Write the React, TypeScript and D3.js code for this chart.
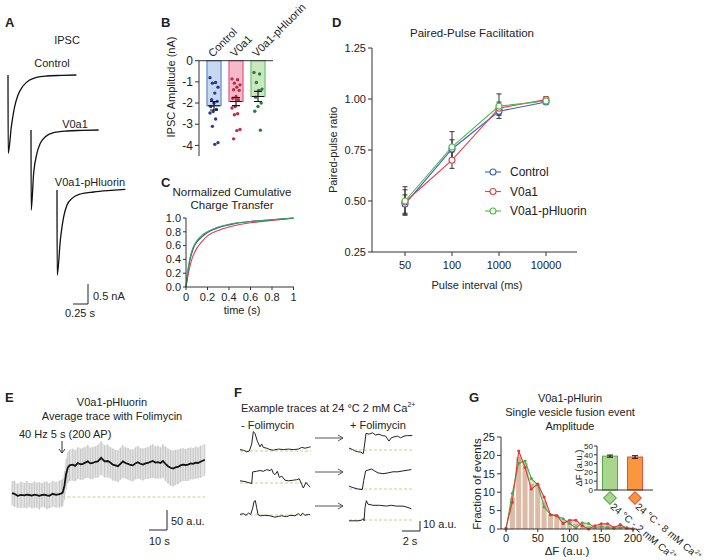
import React from "react";
import * as d3 from "d3";

const FONT = "'Liberation Sans', Arial, Helvetica, sans-serif";

// ---- A: example IPSC traces [time (s), current (nA)]
const ipscControl = [[0, 0], [0.003, -1.96], [0.056, -1.29], [0.111, -0.79], [0.167, -0.5], [0.25, -0.275], [0.361, -0.125], [0.472, -0.06], [0.639, -0.025], [0.9, -0.01], [1.14, 0]];
const ipscV0a1 = [[0, 0], [0.003, -2.0], [0.044, -1.08], [0.1, -0.58], [0.156, -0.33], [0.239, -0.17], [0.378, -0.067], [0.6, -0.025], [0.85, -0.01], [1.128, 0]];
const ipscPh = [[0, 0], [0.003, -2.13], [0.056, -1.25], [0.111, -0.67], [0.167, -0.375], [0.25, -0.21], [0.389, -0.1], [0.611, -0.05], [0.9, -0.01], [1.14, 0.017]];

// ---- B: IPSC amplitude (nA)
const groups = ["Control", "V0a1", "V0a1-pHluorin"];
const ampMean = [-2.13, -1.93, -1.69];
const ampSem = [0.2, 0.19, 0.24];
const ampControl = [-0.8, -1.03, -1.06, -1.25, -1.53, -1.84, -1.92, -2.0, -2.16, -2.3, -2.4, -2.47, -2.75, -3.1, -3.87, -3.95];
const ampV0a1 = [-0.86, -0.9, -1.06, -1.14, -1.25, -1.37, -1.4, -1.69, -1.77, -1.84, -2.16, -2.23, -2.5, -2.55, -3.25, -3.3, -3.69];
const ampPh = [-0.56, -0.63, -1.03, -1.34, -1.4, -1.72, -2.0, -2.16, -2.39, -3.28];
const bTicks = [0, -1, -2, -3, -4];

// ---- C: normalized cumulative charge transfer
const cTime = [0, 0.01, 0.02, 0.04, 0.06, 0.08, 0.1, 0.15, 0.2, 0.3, 0.4, 0.5, 0.6, 0.8, 1.0];
const cControl = [0, 0.13, 0.25, 0.41, 0.52, 0.6, 0.65, 0.73, 0.79, 0.86, 0.9, 0.93, 0.95, 0.975, 1.0];
const cV0a1 = [0, 0.09, 0.18, 0.32, 0.43, 0.5, 0.56, 0.66, 0.74, 0.82, 0.87, 0.905, 0.93, 0.965, 0.995];
const cPh = [0, 0.15, 0.27, 0.44, 0.55, 0.62, 0.67, 0.75, 0.8, 0.87, 0.91, 0.935, 0.95, 0.975, 1.0];
const cTicksY = [0, 0.2, 0.4, 0.6, 0.8, 1.0];
const cTicksX = [0, 0.2, 0.4, 0.6, 0.8, 1];

// ---- D: paired-pulse ratio
const intervals = ["50", "100", "1000", "10000"];
const ppControl = [0.485, 0.755, 0.94, 0.985];
const ppControlErr = [0.045, 0.045, 0.02, 0.008];
const ppV0a1 = [0.495, 0.7, 0.955, 0.997];
const ppV0a1Err = [0.06, 0.04, 0.03, 0.015];
const ppPh = [0.5, 0.765, 0.965, 0.99];
const ppPhErr = [0.07, 0.075, 0.06, 0.01];
const dTicks = [0.25, 0.5, 0.75, 1.0, 1.25];

// ---- E: average trace [time (s), mean (a.u.), error (a.u.)]
const eTrace = [
  [0, 9.5, 30], [1.3, 8, 32], [3.1, 3, 30], [5, 5.5, 33], [6.8, 4, 31], [8.2, 6, 34], [9.6, 5, 30], [11, 3.5, 32],
  [12.4, 6, 33], [13.8, 4.5, 31], [15.2, 3, 34], [16.6, 5, 30], [18, 6, 32], [19.4, 4, 35], [20.7, 3, 31], [22.6, 8, 33],
  [24.4, 5.5, 32], [26.3, 7, 34], [27.4, 9, 33], [28.1, 11, 35], [29.1, 29, 36], [30, 57, 38], [30.9, 73, 38], [31.9, 79, 39],
  [33.7, 81, 40], [35, 78, 39], [36.5, 85, 40], [38, 82, 39], [39.3, 83, 40], [40.6, 86, 39], [42, 89, 41], [43.4, 84, 39],
  [44.8, 85, 40], [46.2, 88, 39], [47.6, 89, 41], [49.4, 98, 42], [51.3, 89, 40], [53.1, 90, 41], [54.5, 86, 39], [55.9, 81, 40],
  [57.3, 79, 39], [58.7, 77, 40], [60.1, 83, 40], [61.5, 89, 41], [62.9, 85, 39], [64.3, 83, 40], [65.6, 80, 39], [67, 79, 40],
  [68.4, 84, 40], [69.8, 87, 41], [71.2, 83, 39], [72.6, 81, 40], [74, 84, 39], [75.4, 85, 40], [76.8, 88, 41], [78.1, 90, 42],
  [79.5, 86, 40], [80.9, 87, 41], [82.3, 85, 39], [83.7, 90, 42], [85.1, 83, 43], [86.5, 77, 44], [87.9, 73, 45], [89.3, 71, 45],
  [90.6, 74, 44], [92, 75, 43], [93.4, 79, 42], [94.8, 81, 41], [96.2, 80, 40], [97.6, 81, 41], [99, 84, 40], [100.4, 83, 39],
  [101.8, 86, 40], [103.1, 85, 39], [104.5, 88, 40], [106.9, 93, 39],
];

// ---- F: example traces [time (s), dF (a.u.)]
const f1Before = [[0, 1.4], [0.37, 0.8], [0.74, -0.8], [1.04, 0], [1.3, 6.9], [1.48, 19.4], [1.67, 17.5], [1.93, 9.7], [2.22, 4.2], [2.41, 6.9], [2.59, 3.6], [2.96, 2.8], [3.33, 1.4], [3.7, 0.8], [4.26, 1.9], [4.81, 1.4], [5.37, 1.9], [5.93, 1.4], [6.48, 1.9], [6.85, 3.6], [7.22, 2.8], [7.59, 3.6], [7.85, 4.2]];
const f1After = [[0, 1.9], [0.37, 0.6], [0.63, -0.8], [0.93, -1.7], [1.3, -2.2], [1.59, -3.6], [1.74, 6.1], [1.89, 16.7], [2.22, 15.8], [2.59, 17.2], [2.96, 15], [3.33, 15.8], [3.7, 14.4], [4.07, 13.9], [4.44, 8.9], [4.7, 12.2], [5, 13.1], [5.37, 13.9], [5.74, 12.2], [6.11, 13.9], [6.48, 14.4], [7.04, 14.4]];
const f2Before = [[0, 2.2], [0.56, 1.4], [1.11, 0], [1.3, -0.6], [1.41, 11.1], [1.85, 11.7], [2.22, 12.5], [2.59, 11.7], [2.96, 13.3], [3.33, 12.5], [3.52, 13.9], [3.7, 9.7], [3.89, 8.3], [4.15, 11.7], [4.37, 5.6], [4.63, 6.9], [5, 2.8], [5.37, 2.2], [5.93, 2.8], [6.3, 3.3], [6.59, 4.2], [6.85, -1.4], [7.04, -5], [7.33, 0.6], [7.59, -2.2], [7.78, -4.2]];
const f2After = [[0, 2.8], [0.44, 1.4], [1, 0], [1.48, -0.6], [1.63, 8.3], [1.85, 18.1], [2.11, 18.9], [2.48, 20], [2.85, 18.1], [3.22, 16.1], [3.78, 15.3], [4.33, 16.1], [4.89, 17.2], [5.44, 17.2], [6, 18.1], [6.56, 18.9], [6.93, 19.4]];
const f3Before = [[0, 0.6], [0.37, 1.4], [0.67, -0.3], [0.93, 1.9], [1.19, 0.6], [1.41, 6.9], [1.56, 13.6], [1.7, 14.4], [1.85, 7.5], [2, 0.3], [2.3, -0.8], [2.78, -0.3], [3.33, -0.8], [3.89, -2.2], [4.26, -1.4], [4.63, -0.8], [5.19, -1.7], [5.56, -0.3], [6.11, -0.8], [6.48, 1.4], [6.74, -0.8], [6.96, 1.9], [7.22, -0.3], [7.59, 0.6], [7.78, 0.3]];
const f3After = [[0, -0.8], [0.44, -0.8], [1, -0.8], [1.37, -0.3], [1.56, 1.4], [1.67, -0.8], [1.78, 12.5], [1.93, 19.4], [2.11, 15.8], [2.67, 14.7], [3.41, 14.7], [4.15, 13.9], [4.7, 14.7], [5.26, 13.9], [6, 13.9], [6.56, 12.5], [6.93, 11.1]];

// ---- G: amplitude histogram (fraction of events, %)
const gBins = [0, 10, 20, 30, 40, 50, 60, 70, 80, 90, 100, 110, 120, 130, 140, 150, 160, 170, 180, 190, 200];
const gRed = [0.3, 7.3, 21.2, 16.7, 10.9, 12.2, 8.7, 3.9, 3.7, 1.5, 2.4, 2.4, 0.9, 0, 0.9, 1.4, 1.4, 0.4, 1.2, 0.2, 0];
const gGreen = [0, 9.7, 17.9, 18.5, 13.7, 12.0, 6.0, 3.9, 3.5, 2.8, 1.5, 0.3, 1.7, 1.5, 0.4, 0.6, 0.4, 0.2, 0.4, 0.4, 0.1];
const gBarBins = [10, 20, 30, 40, 50, 60, 70, 80, 90, 100, 110, 120, 130, 140, 150, 160, 170, 180, 190];
const gBarVals = [8.5, 19.5, 18, 12.3, 12.2, 7.5, 4, 3.7, 2.2, 2, 1.4, 1.3, 0.8, 0.6, 1, 0.9, 0.4, 0.8, 0.3];
const gTicksY = [0, 5, 10, 15, 20, 25];
const gTicksX = [0, 50, 100, 150, 200];
const insetConds = ["24 °C - 2 mM Ca", "24 °C - 8 mM Ca"];
const insetMean = [38.5, 37.5];
const insetErr = [1.2, 1.5];
const insetTicks = [0, 10, 20, 30, 40, 50];

const Txt = ({ x, y, children, size = 11, anchor = "start", weight = "normal", transform = undefined, fill = "#222" }: any) => (
  <text x={x} y={y} dy="0.35em" fontSize={size} textAnchor={anchor} fontWeight={weight} transform={transform} fill={fill}>
    {children}
  </text>
);

function PanelA() {
  const x = d3.scaleLinear().domain([0, 1]).range([0, 60]);
  const y = d3.scaleLinear().domain([0, -1]).range([0, 40]);
  const line = d3.line<any>().x((d) => x(d[0])).y((d) => y(d[1])).curve(d3.curveMonotoneX);
  const traces = [
    { data: ipscControl, label: "Control", ox: 8, oy: 75, lx: 52, ly: 63 },
    { data: ipscV0a1, label: "V0a1", ox: 31, oy: 130, lx: 75, ly: 124 },
    { data: ipscPh, label: "V0a1-pHluorin", ox: 57, oy: 190, lx: 90, ly: 182 },
  ];
  return (
    <g>
      <Txt x={5} y={22} size={13} weight="bold">A</Txt>
      <Txt x={67} y={40} anchor="middle">IPSC</Txt>
      {traces.map((t) => (
        <g key={t.label}>
          <Txt x={t.lx} y={t.ly} anchor="middle">{t.label}</Txt>
          <path d={line(t.data) || ""} transform={`translate(${t.ox},${t.oy})`} fill="none" stroke="#111" strokeWidth={1.3} />
        </g>
      ))}
      <path d={`M${88 - x(0.25)},${304}H88V${304 - (y(-0.5) - y(0))}`} fill="none" stroke="#222" strokeWidth={1} />
      <Txt x={93} y={296}>0.5 nA</Txt>
      <Txt x={65} y={313}>0.25 s</Txt>
    </g>
  );
}

function PanelB() {
  const y = d3.scaleLinear().domain([-4.5, 0]).range([156, 60.7]);
  const x = d3.scaleBand().domain(groups).range([203, 269]).paddingInner(0.36).paddingOuter(0.18);
  const pts = [ampControl, ampV0a1, ampPh];
  const fills = ["#c6d9f0", "#f6b9cc", "#c9e8c2"];
  const strokes = ["#4a72c8", "#d9476e", "#5cb85c"];
  const dots = ["#2d3a8a", "#c42a45", "#2e7a3a"];
  const bw = x.bandwidth();
  return (
    <g>
      <Txt x={161} y={22} size={13} weight="bold">B</Txt>
      <Txt x={171} y={87} anchor="middle" transform="rotate(-90,171,87)">IPSC Amplitude (nA)</Txt>
      {groups.map((g, i) => {
        const cx = (x(g) as number) + bw / 2;
        return (
          <g key={g}>
            <rect x={x(g)} y={y(0)} width={bw} height={y(ampMean[i]) - y(0)} fill={fills[i]} stroke={strokes[i]} strokeWidth={1} />
            {pts[i].map((v, j) => (
              <circle key={j} cx={cx + (((j * 7) % 11) - 5) * 0.8} cy={y(v)} r={1.7} fill={dots[i]} />
            ))}
            <path
              d={`M${cx},${y(ampMean[i] - ampSem[i])}V${y(ampMean[i] + ampSem[i])}M${cx - 4},${y(ampMean[i] - ampSem[i])}H${cx + 4}M${cx - 4},${y(ampMean[i] + ampSem[i])}H${cx + 4}M${cx - 6},${y(ampMean[i])}H${cx + 6}`}
              stroke="#111" strokeWidth={1.1} fill="none"
            />
            <Txt x={cx - 4} y={55} transform={`rotate(-45,${cx - 4},55)`}>{g}</Txt>
          </g>
        );
      })}
      <line x1={199} x2={273} y1={y(0)} y2={y(0)} stroke="#333" />
      <line x1={199} x2={199} y1={y(0)} y2={y(-4.5)} stroke="#333" />
      {bTicks.map((t) => (
        <g key={t}>
          <line x1={195} x2={199} y1={y(t)} y2={y(t)} stroke="#333" />
          <Txt x={193} y={y(t)} anchor="end" size={12}>{t === 0 ? "0" : `-${Math.abs(t)}`}</Txt>
        </g>
      ))}
    </g>
  );
}

function PanelC() {
  const x = d3.scaleLinear().domain([0, 1]).range([186, 293.5]);
  const y = d3.scaleLinear().domain([0, 1]).range([287, 218]);
  const line = d3.line<number>().x((_, i) => x(cTime[i])).y((d) => y(d)).curve(d3.curveMonotoneX);
  const series = [
    { v: cV0a1, c: "#d8404f" },
    { v: cControl, c: "#3a4aa0" },
    { v: cPh, c: "#38a85a" },
  ];
  return (
    <g>
      <Txt x={161} y={182} size={13} weight="bold">C</Txt>
      <Txt x={232} y={192} anchor="middle" size={11.5}>Normalized Cumulative</Txt>
      <Txt x={232} y={205} anchor="middle" size={11.5}>Charge Transfer</Txt>
      {series.map((s, i) => (
        <path key={i} d={line(s.v) || ""} fill="none" stroke={s.c} strokeWidth={1.1} />
      ))}
      <line x1={186} x2={294} y1={287} y2={287} stroke="#333" />
      <line x1={186} x2={186} y1={287} y2={218} stroke="#333" />
      {cTicksY.map((t) => (
        <g key={t}>
          <line x1={183} x2={186} y1={y(t)} y2={y(t)} stroke="#333" />
          <Txt x={181} y={y(t)} anchor="end" size={11}>{t.toFixed(1)}</Txt>
        </g>
      ))}
      {cTicksX.map((t) => (
        <g key={t}>
          <line x1={x(t)} x2={x(t)} y1={287} y2={290} stroke="#333" />
          <Txt x={x(t)} y={297} anchor="middle" size={11}>{String(t)}</Txt>
        </g>
      ))}
      <Txt x={242} y={310} anchor="middle" size={11}>time (s)</Txt>
    </g>
  );
}

function PanelD() {
  const x = d3.scalePoint().domain(intervals).range([405, 546]);
  const y = d3.scaleLinear().domain([0.25, 1.25]).range([252, 48]);
  const line = d3.line<number>().x((_, i) => x(intervals[i]) as number).y((d) => y(d));
  const series = [
    { name: "Control", v: ppControl, e: ppControlErr, c: "#3f5fc0" },
    { name: "V0a1", v: ppV0a1, e: ppV0a1Err, c: "#e0404a" },
    { name: "V0a1-pHluorin", v: ppPh, e: ppPhErr, c: "#4cbb4c" },
  ];
  return (
    <g>
      <Txt x={332} y={22} size={13} weight="bold">D</Txt>
      <Txt x={472} y={33} anchor="middle" size={11.5}>Paired-Pulse Facilitation</Txt>
      <line x1={372} x2={372} y1={48} y2={252} stroke="#333" />
      <line x1={372} x2={577} y1={252} y2={252} stroke="#333" />
      {dTicks.map((t) => (
        <g key={t}>
          <line x1={368} x2={372} y1={y(t)} y2={y(t)} stroke="#333" />
          <Txt x={366} y={y(t)} anchor="end" size={11}>{t.toFixed(2)}</Txt>
        </g>
      ))}
      {intervals.map((t) => (
        <g key={t}>
          <line x1={x(t)} x2={x(t)} y1={252} y2={256} stroke="#333" />
          <Txt x={x(t)} y={265} anchor="middle" size={11}>{t}</Txt>
        </g>
      ))}
      <Txt x={477} y={285} anchor="middle" size={11}>Pulse interval (ms)</Txt>
      <Txt x={333} y={150} anchor="middle" size={11} transform="rotate(-90,333,150)">Paired-pulse ratio</Txt>
      {series.map((s) => (
        <path key={s.name} d={line(s.v) || ""} fill="none" stroke={s.c} strokeWidth={1.1} />
      ))}
      {series.map((s) =>
        s.v.map((v, i) => {
          const cx = x(intervals[i]) as number;
          return (
            <path key={s.name + i}
              d={`M${cx},${y(v - s.e[i])}V${y(v + s.e[i])}M${cx - 2.5},${y(v - s.e[i])}H${cx + 2.5}M${cx - 2.5},${y(v + s.e[i])}H${cx + 2.5}`}
              stroke="#333" strokeWidth={1} fill="none" />
          );
        })
      )}
      {series.map((s) =>
        s.v.map((v, i) => (
          <circle key={s.name + "c" + i} cx={x(intervals[i])} cy={y(v)} r={3} fill="#fff" stroke={s.c} strokeWidth={1.1} />
        ))
      )}
      {series.map((s, i) => {
        const ly = 172 + i * 19.5;
        return (
          <g key={s.name + "l"}>
            <line x1={485} x2={501} y1={ly} y2={ly} stroke={s.c} strokeWidth={1.1} />
            <circle cx={493} cy={ly} r={3} fill="#fff" stroke={s.c} strokeWidth={1.1} />
            <Txt x={510} y={ly} size={12}>{s.name}</Txt>
          </g>
        );
      })}
    </g>
  );
}

function PanelE() {
  const x = d3.scaleLinear().domain([0, 107]).range([12, 205]);
  const y = d3.scaleLinear().domain([0, 50]).range([497, 477]);
  const area = d3.area<any>().x((d) => x(d[0])).y0((d) => y(d[1] - d[2])).y1((d) => y(d[1] + d[2]));
  const line = d3.line<any>().x((d) => x(d[0])).y((d) => y(d[1]));
  return (
    <g>
      <Txt x={5} y={397} size={13} weight="bold">E</Txt>
      <Txt x={112} y={402} anchor="middle">V0a1-pHluorin</Txt>
      <Txt x={112} y={416} anchor="middle">Average trace with Folimycin</Txt>
      <Txt x={19} y={434}>40 Hz 5 s (200 AP)</Txt>
      <path d="M62,441V453M59,449L62,453L65,449" fill="none" stroke="#333" strokeWidth={1} />
      <path d={area(eTrace) || ""} fill="#e3e3e3" />
      {eTrace.map((d, i) => (
        <line key={i} x1={x(d[0])} x2={x(d[0])} y1={y(d[1] - d[2])} y2={y(d[1] + d[2])} stroke="#bfbfbf" strokeWidth={0.8} />
      ))}
      <line x1={x(28)} x2={205} y1={y(0)} y2={y(0)} stroke="#c4d48a" strokeDasharray="3,2" />
      <path d={line(eTrace) || ""} fill="none" stroke="#111" strokeWidth={1.8} />
      <path d={`M149,530H167V${530 - (y(0) - y(50))}`} fill="none" stroke="#222" />
      <Txt x={171} y={521}>50 a.u.</Txt>
      <Txt x={149} y={541}>10 s</Txt>
    </g>
  );
}

function PanelF() {
  const x = d3.scaleLinear().domain([0, 1]).range([0, 9]);
  const y = d3.scaleLinear().domain([0, 10]).range([0, -10]);
  const line = d3.line<any>().x((d) => x(d[0])).y((d) => y(d[1]));
  const rows = [
    { b: f1Before, a: f1After, yb: 451, ya: 450, ar: 438 },
    { b: f2Before, a: f2After, yb: 483, ya: 489, ar: 472 },
    { b: f3Before, a: f3After, yb: 515, ya: 520, ar: 506 },
  ];
  return (
    <g>
      <Txt x={234} y={392} size={13} weight="bold">F</Txt>
      <text x={241} y={408} dy="0.35em" fontSize={11} fill="#222">
        Example traces at 24 °C 2 mM Ca<tspan fontSize={7} dy="-5">2+</tspan>
      </text>
      <Txt x={241} y={425}>- Folimycin</Txt>
      <Txt x={350} y={425}>+ Folimycin</Txt>
      {rows.map((r, i) => (
        <g key={i}>
          <line x1={240} x2={311} y1={r.yb} y2={r.yb} stroke="#c4d48a" strokeDasharray="3,2" />
          <line x1={349} x2={412} y1={r.ya} y2={r.ya} stroke="#c4d48a" strokeDasharray="3,2" />
          <path d={line(r.b) || ""} transform={`translate(240,${r.yb})`} fill="none" stroke="#222" strokeWidth={1} />
          <path d={line(r.a) || ""} transform={`translate(349,${r.ya})`} fill="none" stroke="#222" strokeWidth={1} />
          <path d={`M315,${r.ar}H343M338,${r.ar - 3}L343,${r.ar}L338,${r.ar + 3}`} fill="none" stroke="#444" strokeWidth={0.9} />
        </g>
      ))}
      <path d={`M402,531H420V${531 + y(10)}`} fill="none" stroke="#222" />
      <Txt x={423} y={524}>10 a.u.</Txt>
      <Txt x={410} y={541} anchor="middle">2 s</Txt>
    </g>
  );
}

function PanelG() {
  const x = d3.scaleLinear().domain([0, 200]).range([506, 633]);
  const y = d3.scaleLinear().domain([0, 25]).range([529, 437]);
  const pts = gBins.map((b, i) => ({ b, r: gRed[i], g: gGreen[i] }));
  const lineR = d3.line<any>().x((d) => x(d.b)).y((d) => y(d.r));
  const lineG = d3.line<any>().x((d) => x(d.b)).y((d) => y(d.g));
  const aboveG = d3.area<any>().x((d) => x(d.b)).y0((d) => y(d.g)).y1(y(25));
  const belowR = d3.area<any>().x((d) => x(d.b)).y0(y(0)).y1((d) => y(d.r));
  const aboveR = d3.area<any>().x((d) => x(d.b)).y0((d) => y(d.r)).y1(y(25));
  const belowG = d3.area<any>().x((d) => x(d.b)).y0(y(0)).y1((d) => y(d.g));
  const bw = x(8) - x(0);

  const iy = d3.scaleLinear().domain([0, 50]).range([490, 446]);
  const ix = d3.scaleBand().domain(insetConds).range([600, 645]).paddingInner(0.4).paddingOuter(0.1);
  const ibw = ix.bandwidth();
  const iFill = ["#a9d58f", "#f9963f"];
  const iStroke = ["#58a848", "#e8503a"];
  const diamond = d3.symbol().type(d3.symbolSquare).size(80)();
  return (
    <g>
      <Txt x={469} y={397} size={13} weight="bold">G</Txt>
      <Txt x={570} y={398} anchor="middle">V0a1-pHlurin</Txt>
      <Txt x={570} y={412} anchor="middle">Single vesicle fusion event</Txt>
      <Txt x={570} y={426} anchor="middle">Amplitude</Txt>
      <defs>
        <clipPath id="clipBelowR"><path d={belowR(pts) || ""} /></clipPath>
        <clipPath id="clipBelowG"><path d={belowG(pts) || ""} /></clipPath>
      </defs>
      {gBarBins.map((b, i) => (
        <rect key={b} x={x(b) - bw / 2} y={y(gBarVals[i])} width={bw} height={y(0) - y(gBarVals[i])} fill="#dcbca6" />
      ))}
      <path d={aboveG(pts) || ""} clipPath="url(#clipBelowR)" fill="#f08080" opacity={0.35} />
      <path d={aboveR(pts) || ""} clipPath="url(#clipBelowG)" fill="#7cc86a" opacity={0.35} />
      <path d={lineG(pts) || ""} fill="none" stroke="#4aac48" strokeWidth={1.1} />
      <path d={lineR(pts) || ""} fill="none" stroke="#e0383a" strokeWidth={1.1} />
      {pts.map((d) => (
        <g key={d.b}>
          <circle cx={x(d.b)} cy={y(d.g)} r={1.5} fill="#4aac48" />
          <circle cx={x(d.b)} cy={y(d.r)} r={1.5} fill="#e0383a" />
        </g>
      ))}
      <line x1={501} x2={501} y1={437} y2={529} stroke="#333" />
      <line x1={501} x2={637} y1={529} y2={529} stroke="#333" />
      {gTicksY.map((t) => (
        <g key={t}>
          <line x1={497} x2={501} y1={y(t)} y2={y(t)} stroke="#333" />
          <Txt x={495} y={y(t)} anchor="end" size={11}>{String(t)}</Txt>
        </g>
      ))}
      {gTicksX.map((t) => (
        <g key={t}>
          <line x1={x(t)} x2={x(t)} y1={529} y2={532} stroke="#333" />
          <Txt x={x(t)} y={538} anchor="middle" size={11}>{String(t)}</Txt>
        </g>
      ))}
      <Txt x={567} y={551} anchor="middle" size={11.5}>ΔF (a.u.)</Txt>
      <Txt x={477} y={484} anchor="middle" size={11.5} transform="rotate(-90,477,484)">Fraction of events</Txt>

      {insetConds.map((c, i) => {
        const cx = (ix(c) as number) + ibw / 2;
        return (
          <g key={c}>
            <rect x={ix(c)} y={iy(insetMean[i])} width={ibw} height={iy(0) - iy(insetMean[i])} fill={iFill[i]} stroke={iStroke[i]} strokeWidth={1} />
            <path d={`M${cx},${iy(insetMean[i] - insetErr[i])}V${iy(insetMean[i] + insetErr[i])}M${cx - 3},${iy(insetMean[i] + insetErr[i])}H${cx + 3}M${cx - 3},${iy(insetMean[i] - insetErr[i])}H${cx + 3}`} stroke="#111" fill="none" />
            <path d={diamond || ""} transform={`translate(${cx},498) rotate(45)`} fill={iFill[i]} stroke={iStroke[i]} strokeWidth={1} />
            <text x={cx + 2} y={505} dy="0.35em" fontSize={10} fill="#222" transform={`rotate(40,${cx + 2},505)`}>
              {c}<tspan fontSize={6.5} dy="-4">2+</tspan>
            </text>
          </g>
        );
      })}
      <line x1={597} x2={597} y1={446} y2={490} stroke="#333" />
      <line x1={597} x2={653} y1={490} y2={490} stroke="#333" />
      {insetTicks.map((t) => (
        <g key={t}>
          <line x1={594} x2={597} y1={iy(t)} y2={iy(t)} stroke="#333" />
          <Txt x={593} y={iy(t)} anchor="end" size={8}>{String(t)}</Txt>
        </g>
      ))}
      <Txt x={579} y={468} anchor="middle" size={9.5} transform="rotate(-90,579,468)">ΔF (a.u.)</Txt>
    </g>
  );
}

export default function App() {
  return (
    <svg width={725} height={560} style={{ position: "absolute", left: 0, top: 0 }} fontFamily={FONT}>
      <rect width={725} height={560} fill="#fff" />
      <PanelA />
      <PanelB />
      <PanelC />
      <PanelD />
      <PanelE />
      <PanelF />
      <PanelG />
    </svg>
  );
}
